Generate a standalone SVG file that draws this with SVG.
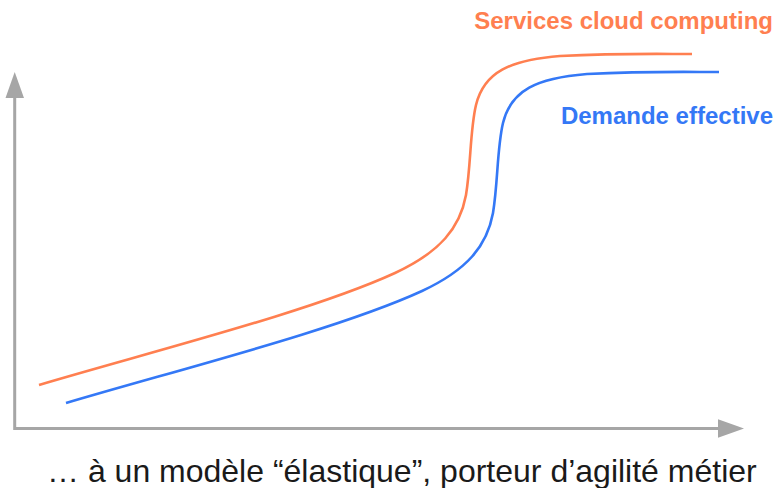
<svg xmlns="http://www.w3.org/2000/svg" width="777" height="488" viewBox="0 0 777 488">
<style>
.axis{stroke:#A6A6A6;stroke-width:3;fill:none}
.head{fill:#A6A6A6}
.curve{fill:none;stroke-width:2.6;stroke-linecap:butt}
.orange{stroke:#FF7F50}
.blue{stroke:#3478F6}
.lbl{font-family:"Liberation Sans",Arial,sans-serif;font-weight:bold;font-size:24px}
.cap{font-family:"Liberation Sans",Arial,sans-serif;font-size:32px;fill:#1a1a1a}
</style>
<rect width="777" height="488" fill="#ffffff"/>
<g id="axes">
<path class="axis" d="M14.7,96 V428.5 H720"/>
<polygon class="head" points="14.7,72 5.5,98 24,98"/>
<polygon class="head" points="744,428.5 718,419.3 718,437.7"/>
</g>
<g id="connectors">
<path id="curve-services" class="curve orange" d="M39,385 C150,352 310,312 395,273 C440,252 460,228 466,195 C471,165 470,130 476,105 C484,72 510,60 560,56 C620,53 660,54 692,54"/>
<path id="curve-demande" class="curve blue" d="M66,403 C177,370 337,330 422,291 C467,270 487,246 493,213 C498,183 497,148 503,123 C511,90 537,78 587,74 C647,71 687,72 719,72"/>
</g>
<g id="label-services">
<text class="lbl" x="773" y="29" text-anchor="end" fill="#FF7F50">Services cloud computing</text>
</g>
<g id="label-demande">
<text class="lbl" x="773" y="124" text-anchor="end" fill="#3478F6">Demande effective</text>
</g>
<g id="caption">
<text class="cap" x="47" y="482">… à un modèle “élastique”, porteur d’agilité métier</text>
</g>
</svg>
